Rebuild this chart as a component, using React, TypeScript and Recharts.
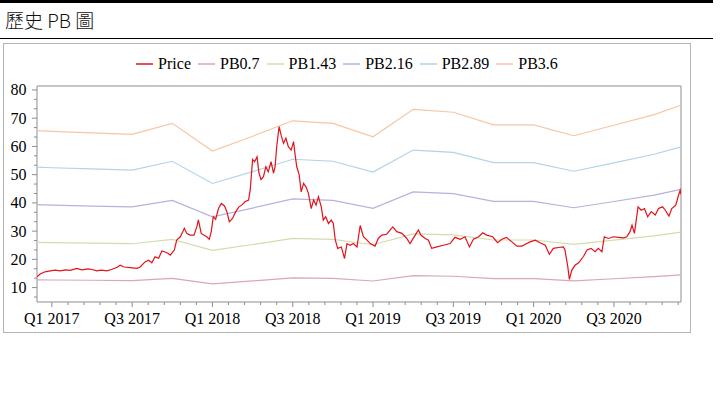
import React from "react";
import { LineChart, Line, XAxis, YAxis, ReferenceArea } from "recharts";

// quarter offsets from Q1 2017 (0 = Q1 2017, 1 = Q2 2017 ...)
const bandQuarters = [-0.37, 0, 1, 2, 3, 4, 5, 6, 7, 8, 9, 10, 11, 12, 13, 14, 15, 15.67];
// book value per share at each quarter
const bookValue = [
  18.22, 18.15, 18.0, 17.86, 18.94, 16.22, 17.67, 19.19, 18.94, 17.61, 20.31, 20.03, 18.78,
  18.78, 17.72, 18.75, 19.8, 20.72,
];
const multiples = [0.7, 1.43, 2.16, 2.89, 3.6];
const bandColors = ["#d9a6bb", "#d3dcae", "#b3b3de", "#b2d3e8", "#f6c6a4"];

// [quarter offset, price]
const pricePoints: [number, number][] = [
  [-0.37, 13.8], [-0.29, 14.8], [-0.17, 15.6], [-0.04, 15.9], [0.08, 16.2], [0.21, 15.9],
  [0.33, 16.3], [0.46, 16.1], [0.62, 16.8], [0.75, 16.3], [0.9, 16.6], [1.0, 16.4],
  [1.12, 15.9], [1.23, 16.2], [1.37, 15.9], [1.5, 16.5], [1.63, 17.2], [1.7, 17.9],
  [1.8, 17.3], [1.95, 17.1], [2.12, 16.8], [2.2, 17.3], [2.32, 19.1], [2.41, 19.7],
  [2.49, 18.8], [2.57, 20.9], [2.66, 20.4], [2.74, 23.0], [2.82, 22.6], [2.9, 22.1],
  [2.95, 21.5], [3.05, 23.3], [3.11, 26.8], [3.2, 28.0], [3.3, 31.0], [3.36, 29.2],
  [3.44, 28.6], [3.54, 28.6], [3.61, 31.5], [3.65, 34.0], [3.72, 29.2], [3.78, 28.6],
  [3.86, 28.0], [3.92, 27.1], [3.97, 29.8], [4.02, 35.1], [4.08, 34.2], [4.15, 38.0],
  [4.22, 39.8], [4.3, 38.9], [4.36, 36.9], [4.42, 33.3], [4.5, 34.5], [4.58, 36.9],
  [4.66, 38.6], [4.73, 39.2], [4.81, 40.4], [4.9, 41.0], [4.94, 44.5], [5.0, 55.4],
  [5.05, 54.6], [5.11, 56.3], [5.16, 50.5], [5.21, 48.3], [5.27, 49.3], [5.33, 52.8],
  [5.39, 51.0], [5.46, 54.6], [5.52, 50.5], [5.56, 52.8], [5.6, 59.9], [5.66, 67.0],
  [5.71, 64.0], [5.77, 61.1], [5.83, 62.9], [5.89, 59.9], [5.96, 58.7], [6.02, 61.7],
  [6.06, 56.9], [6.1, 52.8], [6.16, 49.9], [6.21, 43.9], [6.27, 46.9], [6.33, 45.7],
  [6.39, 43.4], [6.46, 38.0], [6.52, 41.0], [6.58, 39.2], [6.64, 42.2], [6.71, 38.6],
  [6.76, 33.9], [6.82, 35.1], [6.89, 32.7], [6.96, 33.9], [7.01, 32.7], [7.06, 26.8],
  [7.12, 23.9], [7.21, 24.4], [7.29, 20.3], [7.35, 25.6], [7.43, 25.0], [7.51, 25.6],
  [7.6, 24.4], [7.68, 32.0], [7.76, 28.0], [7.85, 26.8], [7.93, 25.6], [8.05, 24.7],
  [8.13, 27.4], [8.22, 28.6], [8.34, 28.9], [8.49, 31.5], [8.59, 29.8], [8.72, 29.2],
  [8.84, 27.4], [8.92, 25.6], [9.05, 28.6], [9.13, 30.4], [9.19, 28.6], [9.3, 27.4],
  [9.38, 26.8], [9.46, 23.9], [9.59, 24.4], [9.75, 25.0], [9.92, 25.6], [10.04, 27.8],
  [10.17, 27.1], [10.29, 28.0], [10.4, 24.4], [10.5, 27.1], [10.63, 28.0], [10.73, 29.4],
  [10.83, 28.6], [10.98, 28.0], [11.1, 25.9], [11.21, 27.1], [11.32, 27.8], [11.46, 26.2],
  [11.58, 24.7], [11.71, 24.7], [11.83, 25.6], [11.91, 26.2], [12.04, 26.8], [12.16, 25.9],
  [12.29, 25.0], [12.39, 21.8], [12.49, 23.9], [12.62, 24.2], [12.74, 24.4], [12.78, 23.3],
  [12.85, 17.4], [12.89, 12.9], [12.95, 16.2], [13.03, 17.9], [13.12, 18.8], [13.24, 21.0],
  [13.33, 23.3], [13.43, 23.9], [13.53, 22.7], [13.61, 23.9], [13.7, 22.7], [13.76, 28.0],
  [13.86, 27.4], [13.99, 28.0], [14.11, 27.8], [14.24, 27.6], [14.32, 28.0], [14.4, 29.8],
  [14.45, 32.1], [14.51, 29.2], [14.6, 38.6], [14.68, 37.4], [14.76, 38.0], [14.84, 35.1],
  [14.93, 36.9], [15.03, 35.7], [15.11, 38.0], [15.21, 38.6], [15.28, 37.4], [15.37, 35.3],
  [15.44, 38.0], [15.54, 39.2], [15.61, 42.8], [15.65, 44.5], [15.67, 43.0],
];

const xMajorTicks = [0, 2, 4, 6, 8, 10, 12, 14];
const xTickLabels = ["Q1 2017", "Q3 2017", "Q1 2018", "Q3 2018", "Q1 2019", "Q3 2019", "Q1 2020", "Q3 2020"];
const yMajorTicks = [10, 20, 30, 40, 50, 60, 70, 80];

const X_DOMAIN: [number, number] = [-0.37, 15.67];
const Y_DOMAIN: [number, number] = [4.9, 81.4];
const AXIS = "#8e8e8e";
const SERIF = "'Liberation Serif', 'Times New Roman', serif";

const xMinorTicks = Array.from({ length: 40 }, (_, i) => Number((i * 0.4).toFixed(2)));
const yMinorTicks = Array.from({ length: 23 }, (_, i) => Number((80 - (i * 10) / 3).toFixed(2)));

const priceData = pricePoints.map(([t, v]) => ({ t, v }));
const bands = multiples.map((m, i) => ({
  name: `PB${m}`,
  color: bandColors[i],
  data: bandQuarters.map((t, j) => ({ t, v: Number((bookValue[j] * m).toFixed(2)) })),
}));

const legendItems = [{ name: "Price", color: "#e3121b" }, ...bands.map((b) => ({ name: b.name, color: b.color }))];

function XTick({ x, y, payload }: any) {
  const idx = xMajorTicks.indexOf(payload.value);
  return (
    <g>
      <line x1={x} x2={x} y1={y} y2={y + (idx >= 0 ? 5 : 3)} stroke={AXIS} />
      {idx >= 0 && (
        <text x={x} y={y + 22} textAnchor="middle" fontSize={16} fontFamily={SERIF} fill="#000">
          {xTickLabels[idx]}
        </text>
      )}
    </g>
  );
}

function YTick({ x, y, payload }: any) {
  const major = yMajorTicks.includes(payload.value);
  return (
    <g>
      <line x1={x - (major ? 5 : 3)} x2={x} y1={y} y2={y} stroke={AXIS} />
      {major && (
        <text x={x - 10.5} y={y + 5.5} textAnchor="end" fontSize={16} fontFamily={SERIF} fill="#000">
          {payload.value}
        </text>
      )}
    </g>
  );
}

export default function App() {
  return (
    <div style={{ position: "absolute", left: 0, top: 0, width: 725, height: 397, background: "#fff" }}>
      <div style={{ position: "absolute", left: 0, top: 0, width: 713, height: 3, background: "#000" }} />
      <div
        style={{
          position: "absolute",
          left: 5,
          top: 8,
          fontFamily: "'Noto Sans CJK TC', sans-serif",
          fontSize: 19,
          fontWeight: 300,
          lineHeight: "24px",
          color: "#111",
        }}
      >
        歷史 PB 圖
      </div>
      <div style={{ position: "absolute", left: 0, top: 38, width: 713, height: 1, background: "#000" }} />
      <div
        style={{
          position: "absolute",
          left: 3,
          top: 43,
          width: 686,
          height: 288,
          border: "1px solid #b4b4b4",
        }}
      >
        <div
          style={{
            position: "absolute",
            left: 0,
            top: 11,
            width: 686,
            height: 18,
            display: "flex",
            justifyContent: "center",
            alignItems: "center",
            fontFamily: SERIF,
            fontSize: 16,
            lineHeight: "18px",
          }}
        >
          {legendItems.map((it) => (
            <div key={it.name} style={{ display: "flex", alignItems: "center", margin: "0 3.5px" }}>
              <svg width={17} height={4} style={{ marginRight: 5 }}>
                <line x1={0} x2={17} y1={2} y2={2} stroke={it.color} strokeWidth={1.5} />
              </svg>
              <span>{it.name}</span>
            </div>
          ))}
        </div>
        <div style={{ position: "absolute", left: 0, top: 0 }}>
          <LineChart width={686} height={288} margin={{ top: 42, right: 9, left: 0, bottom: 0 }}>
            <XAxis
              type="number"
              dataKey="t"
              domain={X_DOMAIN}
              allowDataOverflow
              ticks={xMinorTicks}
              interval={0}
              tick={<XTick />}
              tickSize={0}
              tickMargin={0}
              axisLine={false}
              tickLine={false}
              height={30}
            />
            <YAxis
              type="number"
              dataKey="v"
              domain={Y_DOMAIN}
              allowDataOverflow
              ticks={yMinorTicks}
              interval={0}
              tick={<YTick />}
              tickSize={0}
              tickMargin={0}
              axisLine={false}
              tickLine={false}
              width={33}
            />
            <ReferenceArea
              x1={X_DOMAIN[0]}
              x2={X_DOMAIN[1]}
              y1={Y_DOMAIN[0]}
              y2={Y_DOMAIN[1]}
              fill="none"
              stroke={AXIS}
              ifOverflow="visible"
            />
            {bands.map((b) => (
              <Line
                key={b.name}
                data={b.data}
                dataKey="v"
                name={b.name}
                type="linear"
                stroke={b.color}
                strokeWidth={1.2}
                dot={false}
                isAnimationActive={false}
              />
            ))}
            <Line
              data={priceData}
              dataKey="v"
              name="Price"
              type="linear"
              stroke="#e3121b"
              strokeWidth={1.2}
              dot={false}
              isAnimationActive={false}
            />
          </LineChart>
        </div>
      </div>
    </div>
  );
}
